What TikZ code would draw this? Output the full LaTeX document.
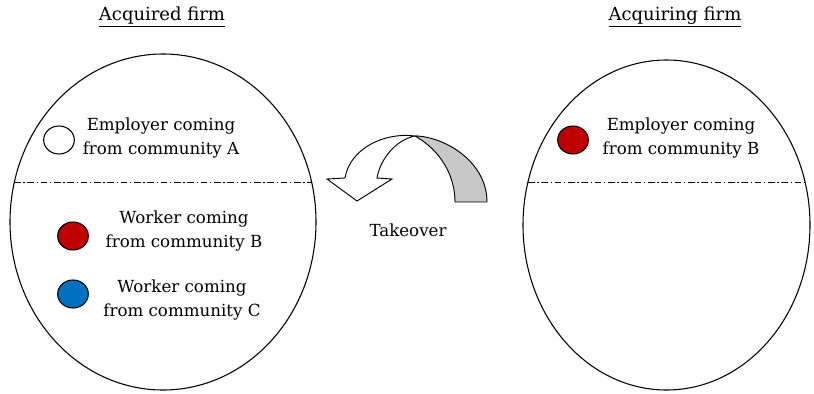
\documentclass[tikz,border=0pt]{standalone}
\usepackage{fontspec}
\setmainfont{DejaVu Serif}
\usetikzlibrary{shapes.geometric}
\definecolor{cred}{HTML}{C00000}
\definecolor{cblue}{HTML}{0070C0}
\definecolor{cgray}{HTML}{C8C8C8}
\begin{document}
\begin{tikzpicture}[x=0.75pt,y=-0.75pt,
  firm/.style={draw=black,line width=0.8pt},
  divider/.style={line width=0.7pt,dash pattern=on 5pt off 2pt on 1pt off 2pt},
  dot/.style={draw=black,line width=0.8pt,ellipse,minimum width=23pt,minimum height=21pt,inner sep=0pt},
  lbl/.style={align=center,font=\fontsize{12.5}{18}\selectfont,inner sep=0pt},
  ttl/.style={font=\fontsize{13.5}{16}\selectfont,inner sep=0pt}]
\useasboundingbox (0,0) rectangle (814,393);
% firms
\draw[firm] (163,222) ellipse [x radius=153, y radius=168];
\draw[firm] (666.5,225) ellipse [x radius=143.5, y radius=165];
\coordinate (l1) at (14,182); \coordinate (l2) at (312,182);
\coordinate (r1) at (528,182); \coordinate (r2) at (805,182);
\draw[divider] (l1) -- (l2);
\draw[divider] (r1) -- (r2);
% titles
\node[ttl] (t1) at (162,17) {\underline{Acquired firm}};
\node[ttl] (t2) at (675,17) {\underline{Acquiring firm}};
% markers
\node[dot,fill=white] (c1) at (59,140) {};
\node[dot,fill=cred] (c2) at (73,236) {};
\node[dot,fill=cblue] (c3) at (73,294) {};
\node[dot,fill=cred] (c4) at (573,140) {};
% labels
\node[lbl] (e1) at (161,138) {Employer coming\\from community A};
\node[lbl] (w1) at (184,231) {Worker coming\\from community B};
\node[lbl] (w2) at (182,300) {Worker coming\\from community C};
\node[lbl] (e2) at (681,138) {Employer coming\\from community B};
% takeover arrow
\draw[line width=0.7pt,fill=cgray,line join=round]
  (415,136) .. controls (442,136) and (487,160) .. (487,202)
  -- (455,202) .. controls (455,175) and (440,150) .. cycle;
\draw[line width=0.7pt,fill=white,line join=miter]
  (377,178) .. controls (380,160) and (395,140) .. (415,136)
  .. controls (385,132) and (350,148) .. (345,178)
  -- (327,179) -- (357,201) -- (392,179) -- cycle;
\node[lbl] (tk) at (408,230) {Takeover};
\end{tikzpicture}
\end{document}
